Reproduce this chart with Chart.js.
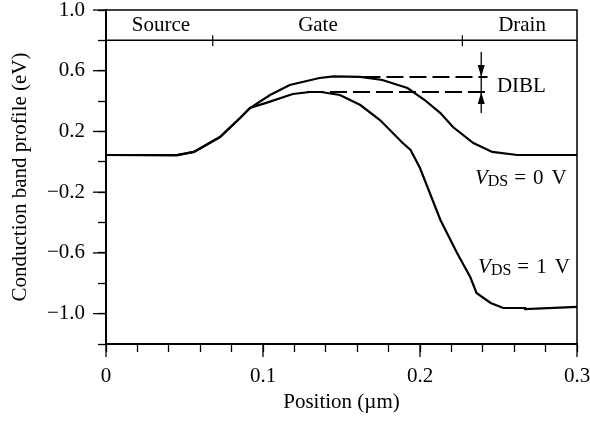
<!DOCTYPE html>
<html>
<head>
<meta charset="utf-8">
<script src="https://cdn.jsdelivr.net/npm/chart.js@4/dist/chart.umd.min.js"></script>
<style>
  body { margin: 0; background: #fff; }
  canvas { display: block; }
</style>
</head>
<body>
<canvas id="banda" width="590" height="421"></canvas>
<script>
(function(){
  // posiciones en um, energia en eV
  const pos_vds0 = [0, 0.045, 0.056, 0.0726, 0.0854, 0.0917, 0.1045, 0.117, 0.136, 0.145, 0.162, 0.176, 0.192, 0.203, 0.213, 0.221, 0.234, 0.246, 0.262, 0.3];
  const ec_vds0  = [0.045, 0.045, 0.065, 0.163, 0.289, 0.354, 0.44, 0.506, 0.552, 0.563, 0.559, 0.539, 0.486, 0.407, 0.321, 0.229, 0.124, 0.065, 0.045, 0.045];

  const pos_vds1 = [0, 0.045, 0.056, 0.0726, 0.0854, 0.0917, 0.1025, 0.119, 0.13, 0.137, 0.149, 0.162, 0.1745, 0.189, 0.194, 0.2, 0.213, 0.2236, 0.232, 0.236, 0.245, 0.253, 0.267, 0.267, 0.3];
  const ec_vds1  = [0.045, 0.042, 0.065, 0.163, 0.289, 0.354, 0.39, 0.447, 0.46, 0.46, 0.44, 0.374, 0.275, 0.124, 0.078, -0.041, -0.383, -0.601, -0.759, -0.864, -0.93, -0.963, -0.963, -0.97, -0.955];

  // barreras (lineas discontinuas) y flecha DIBL
  const dibl_x = [0.164, 0.128];
  const dibl_fin = 0.243;
  const dibl_nivel = [0.559, 0.46];
  const flecha_x = 0.239;
  const flecha_y = [0.723, 0.321];

  // regiones del dispositivo
  const regiones = ['Source', 'Gate', 'Drain'];
  const regiones_x = [0.035, 0.135, 0.265];
  const regiones_y = 0.9;
  const cabecera_y = 0.8;
  const limites_x = [0.068, 0.227];

  const etiquetas_vds = ['0', '1'];
  const etiquetas_x = [0.235, 0.237];
  const etiquetas_y = [-0.107, -0.693];

  const marcas_x = [0, 0.1, 0.2, 0.3];
  const marcas_y = [1.0, 0.6, 0.2, -0.2, -0.6, -1.0];

  const fuente = "'Liberation Serif', 'Times New Roman', serif";
  Chart.defaults.font.family = fuente;
  Chart.defaults.font.size = 21;
  Chart.defaults.color = '#000';

  const puntos = (xs, ys) => xs.map((x, i) => ({ x: x, y: ys[i] }));

  const curva = {
    showLine: true, pointRadius: 0, borderColor: '#000', borderWidth: 2.2, tension: 0, fill: false
  };

  const dibujos = {
    id: 'dibujos',
    beforeDraw(chart){
      const c = chart.ctx;
      c.save();
      c.fillStyle = '#fff';
      c.fillRect(0, 0, chart.width, chart.height);
      c.restore();
    },
    afterDatasetsDraw(chart){
      const c = chart.ctx;
      const sx = chart.scales.x, sy = chart.scales.y;
      const a = chart.chartArea;
      c.save();
      c.strokeStyle = '#000';
      c.fillStyle = '#000';

      // marco superior y derecho
      c.lineWidth = 1.5;
      c.beginPath();
      c.moveTo(a.left, a.top);
      c.lineTo(a.right, a.top);
      c.lineTo(a.right, a.bottom);
      c.stroke();

      // marcas largas en los valores rotulados
      c.lineWidth = 1.3;
      marcas_x.forEach(v => {
        const px = sx.getPixelForValue(v);
        c.beginPath();
        c.moveTo(px, a.bottom);
        c.lineTo(px, a.bottom + 13);
        c.stroke();
      });
      marcas_y.forEach(v => {
        const py = sy.getPixelForValue(v);
        c.beginPath();
        c.moveTo(a.left, py);
        c.lineTo(a.left - 13, py);
        c.stroke();
      });

      // linea de cabecera
      c.lineWidth = 1.5;
      const yc = sy.getPixelForValue(cabecera_y);
      c.beginPath();
      c.moveTo(a.left, yc);
      c.lineTo(a.right, yc);
      c.stroke();
      c.lineWidth = 1.2;
      limites_x.forEach(v => {
        const px = sx.getPixelForValue(v);
        c.beginPath();
        c.moveTo(px, yc - 5);
        c.lineTo(px, yc + 6);
        c.stroke();
      });

      c.font = '21px ' + fuente;
      c.textBaseline = 'middle';
      c.textAlign = 'center';
      regiones.forEach((r, i) => {
        c.fillText(r, sx.getPixelForValue(regiones_x[i]), sy.getPixelForValue(regiones_y));
      });

      // puntas de flecha
      const fx = sx.getPixelForValue(flecha_x);
      [[dibl_nivel[0], -1], [dibl_nivel[1], 1]].forEach(([v, dir]) => {
        const py = sy.getPixelForValue(v);
        c.beginPath();
        c.moveTo(fx, py);
        c.lineTo(fx - 3.5, py + dir * 12);
        c.lineTo(fx + 3.5, py + dir * 12);
        c.closePath();
        c.fill();
      });

      c.textAlign = 'left';
      c.fillText('DIBL', sx.getPixelForValue(0.249), sy.getPixelForValue(0.493));

      etiquetas_vds.forEach((t, i) => {
        let px = sx.getPixelForValue(etiquetas_x[i]);
        const py = sy.getPixelForValue(etiquetas_y[i]);
        c.font = 'italic 21px ' + fuente;
        c.fillText('V', px, py);
        px += c.measureText('V').width;
        c.font = '16px ' + fuente;
        c.fillText('DS', px, py + 4);
        px += c.measureText('DS').width + 6;
        c.font = '21px ' + fuente;
        c.fillText('=', px, py);
        px += c.measureText('=').width + 7;
        c.fillText(t, px, py);
        px += c.measureText(t).width + 8;
        c.fillText('V', px, py);
      });
      c.restore();
    }
  };

  new Chart(document.getElementById('banda'), {
    type: 'scatter',
    data: {
      datasets: [
        Object.assign({ data: puntos(pos_vds0, ec_vds0) }, curva),
        Object.assign({ data: puntos(pos_vds1, ec_vds1) }, curva),
        Object.assign({}, curva, { data: puntos([dibl_x[0], dibl_fin], [dibl_nivel[0], dibl_nivel[0]]), borderDash: [17, 6], borderWidth: 2 }),
        Object.assign({}, curva, { data: puntos([dibl_x[1], dibl_fin], [dibl_nivel[1], dibl_nivel[1]]), borderDash: [17, 6], borderWidth: 2 }),
        Object.assign({}, curva, { data: puntos([flecha_x, flecha_x], flecha_y), borderWidth: 1.3 })
      ]
    },
    options: {
      responsive: false,
      animation: false,
      layout: { padding: { top: 10, right: 13, left: 0, bottom: 4 } },
      plugins: { legend: { display: false }, tooltip: { enabled: false } },
      scales: {
        x: {
          type: 'linear', min: 0, max: 0.3,
          afterFit(s){ s.height = 73; s.paddingLeft = 0; s.paddingRight = 0; },
          ticks: {
            stepSize: 0.02, autoSkip: false, maxRotation: 0, padding: 12,
            callback(v){
              const n = Math.round(v * 100);
              if (n % 10 !== 0) return '';
              return n === 0 ? '0' : (n / 100).toFixed(1);
            }
          },
          grid: { drawOnChartArea: false, tickLength: 8, tickColor: '#000', tickWidth: 1.3 },
          border: { color: '#000', width: 2 },
          title: { display: true, text: 'Position (\u00b5m)', padding: { bottom: 2 } }
        },
        y: {
          min: -1.2, max: 1.0,
          afterFit(s){ s.width = 106; s.paddingTop = 0; s.paddingBottom = 0; },
          ticks: {
            stepSize: 0.2, padding: 13,
            callback(v){
              const n = Math.round(v * 10);
              if ((n + 10) % 4 !== 0) return '';
              return (n < 0 ? '\u2212' : '') + (Math.abs(n) / 10).toFixed(1);
            }
          },
          grid: { drawOnChartArea: false, tickLength: 8, tickColor: '#000', tickWidth: 1.3 },
          border: { color: '#000', width: 2 },
          title: { display: true, text: 'Conduction band profile (eV)', padding: { top: 8 } }
        }
      }
    },
    plugins: [dibujos]
  });
})();
</script>
</body>
</html>
